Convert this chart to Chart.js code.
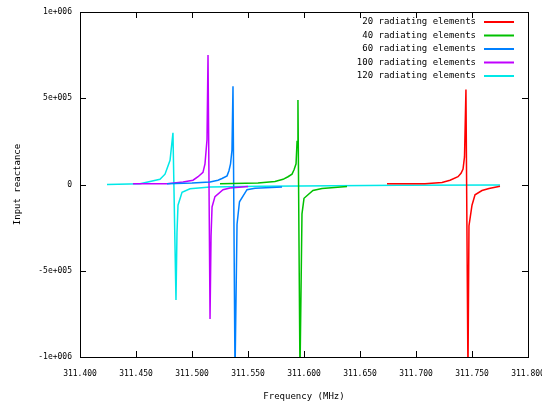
<!DOCTYPE html>
<html>
<head>
<meta charset="utf-8">
<script src="https://cdn.jsdelivr.net/npm/chart.js@4/dist/chart.umd.min.js"></script>
<style>
  html, body { margin: 0; padding: 0; background: #fff; }
  #wrap { width: 542px; height: 406px; }
</style>
</head>
<body>
<div id="wrap"><canvas id="reactanceChart"></canvas></div>
<script>
// tick labels
const xTickLabels = ["311.400", "311.450", "311.500", "311.550", "311.600", "311.650", "311.700", "311.750", "311.800"];
const yTickLabels = { "1000000": "1e+006", "500000": "5e+005", "0": "0", "-500000": "-5e+005", "-1000000": "-1e+006" };

// series: frequency (MHz) and reactance values
const freq20 = [311.6741, 311.7080, 311.7232, 311.7304, 311.7375, 311.7402, 311.7420, 311.7433, 311.7446, 311.7464, 311.7473, 311.7500, 311.7527, 311.7589, 311.7652, 311.7750];
const react20 = [4e3, 5e3, 1.2e4, 2.5e4, 4.5e4, 6.5e4, 9e4, 1.6e5, 5.5e5, -1.1e6, -2.4e5, -1.2e5, -6e4, -3.5e4, -2.3e4, -1e4];

const freq40 = [311.5250, 311.5589, 311.5741, 311.5813, 311.5857, 311.5893, 311.5911, 311.5929, 311.5938, 311.5946, 311.5964, 311.5982, 311.6000, 311.6080, 311.6161, 311.6384];
const react40 = [5e3, 8e3, 1.7e4, 3e4, 4.5e4, 6e4, 8.5e4, 1.2e5, 2.5e5, 4.9e5, -1.1e6, -1.7e5, -8e4, -3.5e4, -2.3e4, -1.2e4];

const freq60 = [311.4777, 311.5000, 311.5161, 311.5232, 311.5268, 311.5313, 311.5330, 311.5344, 311.5357, 311.5366, 311.5384, 311.5402, 311.5424, 311.5491, 311.5563, 311.5804];
const react60 = [5e3, 8e3, 1.5e4, 2.5e4, 3.5e4, 5e4, 8e4, 1.2e5, 2e5, 5.7e5, -1.1e6, -2.3e5, -1e5, -3e4, -2.2e4, -1.5e4];

const freq100 = [311.4473, 311.4777, 311.4920, 311.5009, 311.5054, 311.5098, 311.5116, 311.5134, 311.5143, 311.5161, 311.5170, 311.5179, 311.5205, 311.5277, 311.5339, 311.5500];
const react100 = [4e3, 5e3, 1.5e4, 2.5e4, 4.5e4, 7e4, 1.2e5, 2.6e5, 7.5e5, -7.8e5, -3e5, -1.3e5, -7e4, -3e4, -2e4, -1.2e4];

const freq120 = [311.4241, 311.4536, 311.4714, 311.4759, 311.4804, 311.4830, 311.4857, 311.4866, 311.4875, 311.4911, 311.4982, 311.5161, 311.5607, 311.5964, 311.6857, 311.7750];
const react120 = [0, 5e3, 3e4, 6e4, 1.4e5, 3e5, -6.7e5, -2.8e5, -1.2e5, -4.5e4, -2.5e4, -1.5e4, -1e4, -8e3, -5e3, -3e3];

const seriesLabels = ["20 radiating elements", "40 radiating elements", "60 radiating elements", "100 radiating elements", "120 radiating elements"];
const seriesColors = ["#ff0000", "#00c000", "#0080ff", "#c000ff", "#00e8e8"];

const toPoints = (xs, ys) => xs.map((x, i) => ({ x, y: ys[i] }));
const allFreq = [freq20, freq40, freq60, freq100, freq120];
const allReact = [react20, react40, react60, react100, react120];

const FONT = "'DejaVu Sans Mono', monospace";

// gnuplot-style frame, inward ticks and legend
const gnuplotFrame = {
  id: "gnuplotFrame",
  afterDraw(chart) {
    const { ctx, chartArea: a, scales } = chart;
    ctx.save();
    ctx.strokeStyle = "#000";
    ctx.lineWidth = 1;
    ctx.strokeRect(Math.round(a.left) + 0.5, Math.round(a.top) + 0.5, Math.round(a.right - a.left), Math.round(a.bottom - a.top));
    ctx.beginPath();
    scales.x.ticks.forEach((t, i) => {
      const px = Math.round(scales.x.getPixelForTick(i)) + 0.5;
      ctx.moveTo(px, a.bottom); ctx.lineTo(px, a.bottom - 6);
      ctx.moveTo(px, a.top); ctx.lineTo(px, a.top + 6);
    });
    scales.y.ticks.forEach((t, i) => {
      const py = Math.round(scales.y.getPixelForTick(i)) + 0.5;
      ctx.moveTo(a.left, py); ctx.lineTo(a.left + 6, py);
      ctx.moveTo(a.right, py); ctx.lineTo(a.right - 6, py);
    });
    ctx.stroke();

    // legend
    ctx.font = "9px " + FONT;
    ctx.textAlign = "right";
    ctx.textBaseline = "middle";
    chart.data.datasets.forEach((ds, i) => {
      const y = 22 + i * 13.5;
      ctx.fillStyle = "#000";
      ctx.fillText(ds.label, 476, y);
      ctx.strokeStyle = ds.borderColor;
      ctx.lineWidth = 2;
      ctx.beginPath();
      ctx.moveTo(484, y); ctx.lineTo(514, y);
      ctx.stroke();
    });
    ctx.restore();
  }
};

const ctx = document.getElementById("reactanceChart").getContext("2d");
new Chart(ctx, {
  type: "line",
  data: {
    datasets: seriesLabels.map((label, i) => ({
      label,
      data: toPoints(allFreq[i], allReact[i]),
      borderColor: seriesColors[i],
      backgroundColor: seriesColors[i],
      borderWidth: 1.5,
      pointRadius: 0,
      tension: 0,
    })),
  },
  options: {
    responsive: true,
    maintainAspectRatio: false,
    animation: false,
    layout: { padding: { left: 0, right: 14, top: 12, bottom: 0 } },
    plugins: {
      legend: { display: false },
      tooltip: { enabled: false },
    },
    scales: {
      x: {
        type: "linear",
        min: 311.4,
        max: 311.8,
        ticks: {
          stepSize: 0.05,
          padding: 12,
          maxRotation: 0,
          autoSkip: false,
          color: "#000",
          font: { family: FONT, size: 8 },
          callback: (v, i) => xTickLabels[i],
        },
        grid: { display: false, drawTicks: false },
        border: { display: false },
        title: {
          display: true,
          text: "Frequency (MHz)",
          color: "#000",
          font: { family: FONT, size: 9 },
          padding: { top: 0, bottom: 4 },
        },
        afterFit: (s) => { s.height = 49; s.paddingLeft = 0; s.paddingRight = 0; },
      },
      y: {
        min: -1e6,
        max: 1e6,
        ticks: {
          stepSize: 5e5,
          padding: 8,
          color: "#000",
          font: { family: FONT, size: 8 },
          callback: (v) => yTickLabels[String(v)],
        },
        grid: { display: false, drawTicks: false },
        border: { display: false },
        title: {
          display: true,
          text: "Input reactance",
          color: "#000",
          font: { family: FONT, size: 9 },
          padding: { top: 12, bottom: 0 },
        },
        afterFit: (s) => { s.width = 80; s.paddingTop = 0; s.paddingBottom = 0; },
      },
    },
  },
  plugins: [gnuplotFrame],
});
</script>
</body>
</html>
